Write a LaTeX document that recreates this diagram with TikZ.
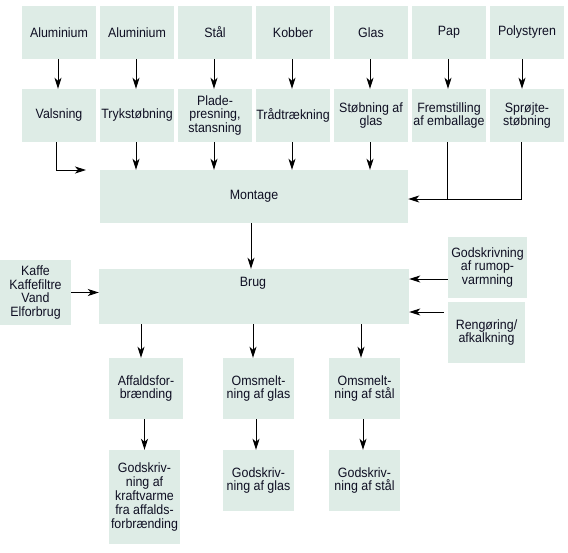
\documentclass[tikz,border=0pt]{standalone}
\usepackage{fontspec}
\setmainfont{Liberation Sans}[FakeStretch=0.92]
\usetikzlibrary{arrows.meta,calc}
\definecolor{boxfill}{RGB}{222,236,230}
\definecolor{txt}{RGB}{15,15,35}
\begin{document}
\begin{tikzpicture}[x=1pt,y=-1pt,
  box/.style={fill=boxfill, draw=none, inner sep=0pt, align=center, text=txt,
    font=\fontsize{13.5}{13.8}\selectfont},
  sq/.style={box, minimum width=74pt, minimum height=53pt},
  arr/.style={-{Stealth[length=11pt,width=7pt,inset=3pt]}, line width=0.9pt},
  ln/.style={line width=0.9pt}]
\useasboundingbox (0,0) rectangle (568,552);
% top row
\node[sq] (t1) at (59,32.5) {Aluminium};
\node[sq] (t2) at (137,32.5) {Aluminium};
\node[sq] (t3) at (215,32.5) {Stål};
\node[sq] (t4) at (293,32.5) {Kobber};
\node[sq] (t5) at (371,32.5) {Glas};
\node[sq] (t6) at (449,32.5) {Pap};
\node[sq] (t7) at (527,32.5) {Polystyren};
% second row
\node[sq] (m1) at (59,115.5) {Valsning};
\node[sq] (m2) at (137,115.5) {Trykstøbning};
\node[sq] (m3) at (215,115.5) {Plade-\\presning,\\stansning};
\node[sq] (m4) at (293,115.5) {Trådtrækning};
\node[sq] (m5) at (371,115.5) {Støbning af\\glas};
\node[sq] (m6) at (449,115.5) {Fremstilling\\af emballage};
\node[sq] (m7) at (527,115.5) {Sprøjte-\\støbning};
% middle
\node[box, minimum width=308pt, minimum height=53pt] (mont) at (254,196.5) {Montage};
\node[box, minimum width=310pt, minimum height=55pt] (brug) at (254,296.5) {};
\node[box, fill=none] (brugtxt) at (253,283) {Brug};
\node[box, minimum width=71pt, minimum height=65pt] (kaffe) at (35.5,292.5) {Kaffe\\Kaffefiltre\\Vand\\Elforbrug};
\node[box, minimum width=79pt, minimum height=61pt] (rumop) at (487.5,267.5) {Godskrivning\\af rumop-\\varmning};
\node[box, minimum width=77pt, minimum height=61pt] (reng) at (486.5,332.5) {Rengøring/\\afkalkning};
% bottom
\node[box, minimum width=74pt, minimum height=61pt] (aff) at (146,388.5) {Affaldsfor-\\brænding};
\node[box, minimum width=71pt, minimum height=61pt] (omg) at (258.5,388.5) {Omsmelt-\\ning af glas};
\node[box, minimum width=71pt, minimum height=61pt] (oms) at (364.5,388.5) {Omsmelt-\\ning af stål};
\node[box, minimum width=71pt, minimum height=94pt] (gk) at (144.5,497) {Godskriv-\\ning af\\kraftvarme\\fra affalds-\\forbrænding};
\node[box, minimum width=71pt, minimum height=61pt] (gg) at (258.5,480.5) {Godskriv-\\ning af glas};
\node[box, minimum width=71pt, minimum height=61pt] (gs) at (364.5,480.5) {Godskriv-\\ning af stål};
% arrows top row
\foreach \i in {1,...,6} {\draw[arr] ([xshift=-1pt]t\i.south) -- ([xshift=-1pt]m\i.north);}
\draw[arr] ([xshift=-5pt]t7.south) -- ([xshift=-5pt]m7.north);
% into montage
\foreach \i in {2,...,5} {\draw[arr] ([xshift=-1pt]m\i.south) -- ([xshift=-1pt]m\i.south |- mont.north);}
\coordinate (vend) at (86,170);
\coordinate (v1) at ($(m1.south)+(-3,0)$);
\draw[arr] (v1) |- (vend);
\coordinate (rj) at ($(mont.east)+(0,2.5)$);
\coordinate (c6) at ($(m6.south)+(-2,0)$);
\coordinate (c7) at ($(m7.south)+(-6,0)$);
\draw[ln] (c6) -- (c6 |- rj);
\draw[arr] (c7) |- (rj);
% montage to brug
\coordinate (mb) at ($(mont.south)+(-3,0)$);
\draw[arr] (mb) -- (mb |- brug.north);
% side inputs
\draw[arr] (kaffe.east) -- (kaffe.east -| brug.west);
\coordinate (ra) at ($(rumop.west)+(0,11.5)$);
\draw[arr] (ra) -- (ra -| brug.east);
\coordinate (rg) at ($(reng.west)+(-4,-20.5)$);
\draw[arr] (rg) -- (rg -| brug.east);
% brug to bottom
\coordinate (b1) at ($(aff.north)+(-5,0)$);
\coordinate (b2) at ($(omg.north)+(-5.5,0)$);
\coordinate (b3) at ($(oms.north)+(-3.5,0)$);
\foreach \b in {b1,b2,b3} {\draw[arr] (\b |- brug.south) -- (\b);}
\draw[arr] (aff.south -| gk.north) -- (gk.north);
\coordinate (g2) at ($(gg.north)+(-2.5,0)$);
\draw[arr] (g2 |- omg.south) -- (g2);
\coordinate (g3) at ($(gs.north)+(-1.5,0)$);
\draw[arr] (g3 |- oms.south) -- (g3);
\end{tikzpicture}
\end{document}
